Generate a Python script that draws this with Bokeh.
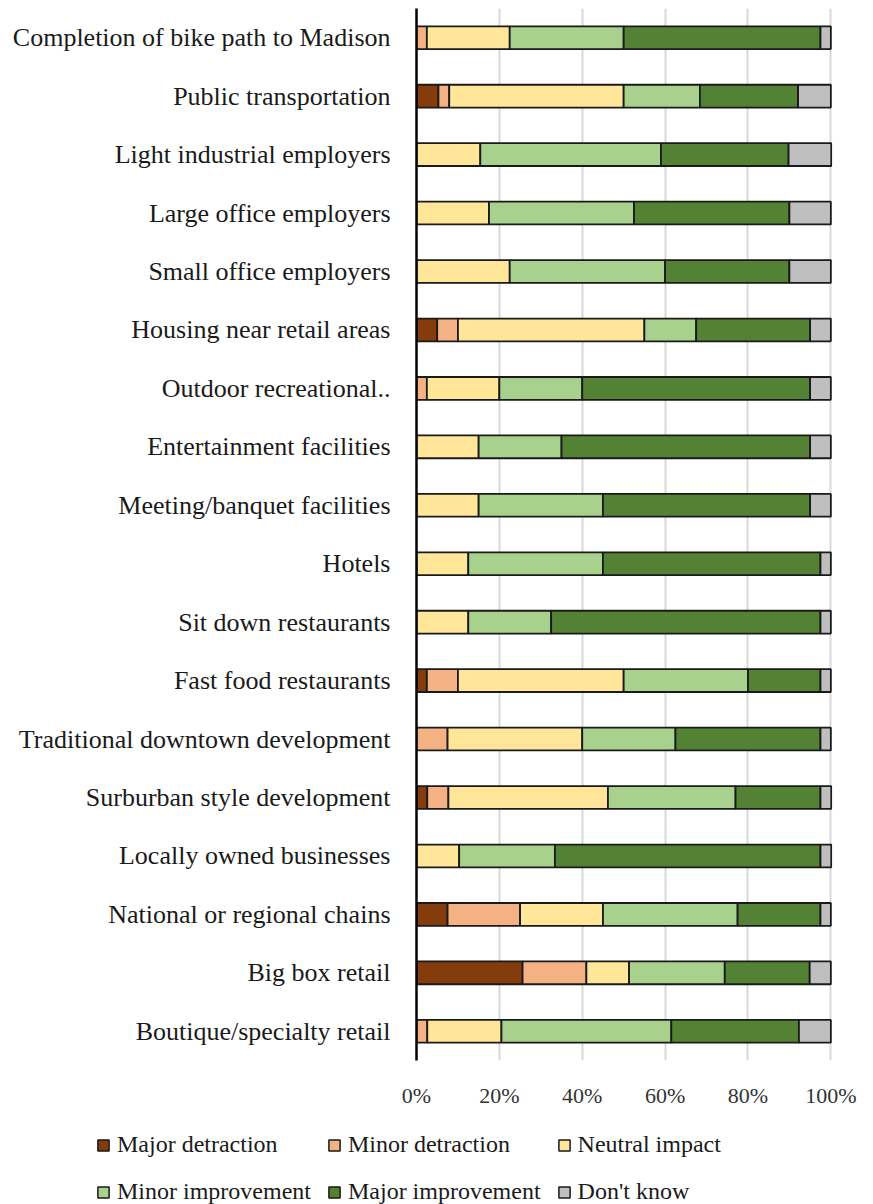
from bokeh.plotting import figure
from bokeh.layouts import column
from bokeh.models import (ColumnDataSource, FactorRange, Range1d, FixedTicker,
                          PrintfTickFormatter, Legend, LegendItem)
from bokeh.embed import file_html
from bokeh.resources import INLINE

categories = [
    "Completion of bike path to Madison",
    "Public transportation",
    "Light industrial employers",
    "Large office employers",
    "Small office employers",
    "Housing near retail areas",
    "Outdoor recreational..",
    "Entertainment facilities",
    "Meeting/banquet facilities",
    "Hotels",
    "Sit down restaurants",
    "Fast food restaurants",
    "Traditional downtown development",
    "Surburban style development",
    "Locally owned businesses",
    "National or regional chains",
    "Big box retail",
    "Boutique/specialty retail",
]

major_detraction = [0, 5.3, 0, 0, 0, 5, 0, 0, 0, 0, 0, 2.5, 0, 2.6, 0, 7.5, 25.6, 0]
minor_detraction = [2.5, 2.6, 0, 0, 0, 5, 2.5, 0, 0, 0, 0, 7.5, 7.5, 5.1, 0, 17.5, 15.4, 2.6]
neutral_impact = [20, 42.1, 15.4, 17.5, 22.5, 45, 17.5, 15, 15, 12.5, 12.5, 40, 32.5, 38.5, 10.3, 20, 10.3, 17.9]
minor_improvement = [27.5, 18.4, 43.6, 35, 37.5, 12.5, 20, 20, 30, 32.5, 20, 30, 22.5, 30.8, 23.1, 32.5, 23.1, 41.0]
major_improvement = [47.5, 23.7, 30.8, 37.5, 30, 27.5, 55, 60, 50, 52.5, 65, 17.5, 35, 20.5, 64.1, 20, 20.5, 30.8]
dont_know = [2.5, 7.9, 10.3, 10, 10, 5, 5, 5, 5, 2.5, 2.5, 2.5, 2.5, 2.6, 2.6, 2.5, 5.1, 7.7]

series_names = ["Major detraction", "Minor detraction", "Neutral impact",
                "Minor improvement", "Major improvement", "Don't know"]
series_keys = ["major_det", "minor_det", "neutral", "minor_imp", "major_imp", "dont_know"]
colors = ["#843C0C", "#F4B183", "#FFE699", "#A9D18E", "#548235", "#BFBFBF"]
x_ticks = [0, 20, 40, 60, 80, 100]

source = ColumnDataSource(data=dict(
    cat=categories,
    major_det=major_detraction,
    minor_det=minor_detraction,
    neutral=neutral_impact,
    minor_imp=minor_improvement,
    major_imp=major_improvement,
    dont_know=dont_know,
))

FONT = "Liberation Serif"
OUTLINE = "#1a1a1a"

p = figure(width=873, height=1110, output_backend="svg", toolbar_location=None,
           y_range=FactorRange(factors=list(reversed(categories))),
           x_range=Range1d(0, 100.4),
           min_border_left=416, min_border_right=41, min_border_top=8,
           min_border_bottom=46)
p.frame_align = False

renderers = p.hbar_stack(series_keys, y="cat", height=0.39, source=source,
                         fill_color=colors, line_color=OUTLINE, line_width=1.8)

p.outline_line_color = None
p.ygrid.grid_line_color = None
p.xgrid.grid_line_color = "#D9D9D9"
p.xgrid.grid_line_width = 2
p.xgrid.ticker = FixedTicker(ticks=x_ticks)

xa = p.xaxis[0]
xa.ticker = FixedTicker(ticks=x_ticks)
xa.formatter = PrintfTickFormatter(format="%d%%")
xa.axis_line_color = None
xa.major_tick_line_color = None
xa.minor_tick_line_color = None
xa.major_label_standoff = 16
xa.major_label_text_font = FONT
xa.major_label_text_font_size = "22px"
xa.major_label_text_color = "#333333"

ya = p.yaxis[0]
ya.axis_line_color = "black"
ya.axis_line_width = 2.5
ya.major_tick_line_color = None
ya.minor_tick_line_color = None
ya.major_label_standoff = 20
ya.major_label_text_font = FONT
ya.major_label_text_font_size = "26px"
ya.major_label_text_color = "#1a1a1a"

# Legend strip below the chart: same stacked renderers, hidden, used only as legend proxies
lf = figure(width=873, height=94, output_backend="svg", toolbar_location=None,
            x_axis_location=None, y_axis_location=None,
            x_range=Range1d(-1000, -900), y_range=FactorRange(factors=categories),
            min_border_left=0, min_border_right=0, min_border_top=0,
            min_border_bottom=0)
lf.frame_align = False
lf.outline_line_color = None
lf.xgrid.visible = False
lf.ygrid.visible = False

leg_renderers = lf.hbar_stack(series_keys, y="cat", height=0.39, source=source,
                              fill_color=colors, line_color=OUTLINE, line_width=1.5)
for r in leg_renderers:
    r.visible = False
items = [LegendItem(label=n, renderers=[r]) for n, r in zip(series_names, leg_renderers)]
legend = Legend(items=items, location=(96, -3), ncols=3,
                orientation="horizontal",
                label_text_font=FONT, label_text_font_size="24px",
                label_text_color="#1a1a1a",
                glyph_width=14, glyph_height=14, label_standoff=7,
                label_width=192, label_height=31, spacing=16,
                padding=0, margin=0, inactive_fill_alpha=0,
                border_line_color=None, background_fill_alpha=0)
lf.add_layout(legend)

layout = column(p, lf, spacing=0)
open("out.html", "w").write(file_html(layout, INLINE))
